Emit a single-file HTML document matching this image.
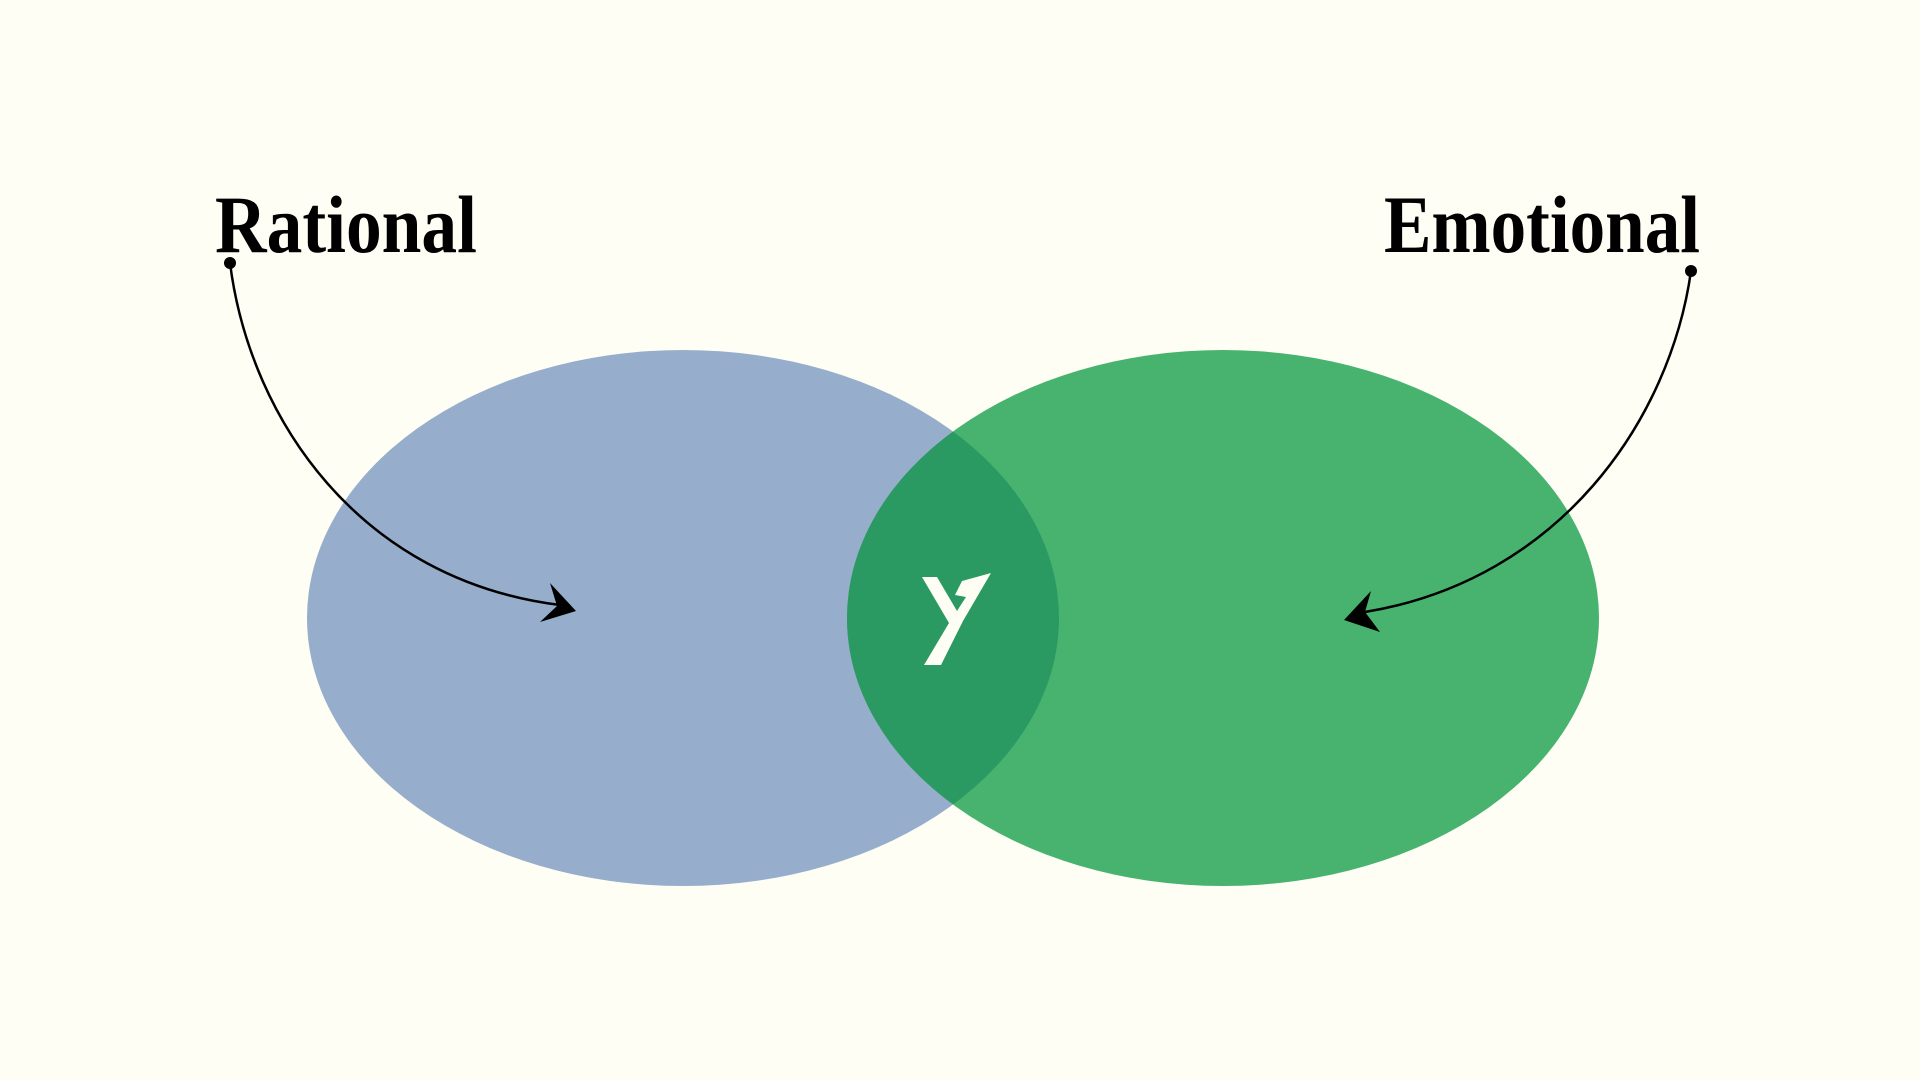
<!DOCTYPE html>
<html><head><meta charset="utf-8"><style>
html,body{margin:0;padding:0;background:#fefef5;}
svg{display:block}
</style></head><body>
<svg width="1920" height="1080" viewBox="0 0 1920 1080" xmlns="http://www.w3.org/2000/svg">
<rect width="1920" height="1080" fill="#fefef5"/>
<defs><clipPath id="cl"><ellipse cx="683" cy="618" rx="376" ry="268"/></clipPath></defs>
<ellipse cx="683" cy="618" rx="376" ry="268" fill="#96adcb"/>
<ellipse cx="1223" cy="618" rx="376" ry="268" fill="#47b36f"/>
<ellipse cx="1223" cy="618" rx="376" ry="268" fill="#2a9a62" clip-path="url(#cl)"/>
<polygon points="922,577 937,577 957,611 966,597 955,595 962,581 991,573 963,621 941,665 924,665 949,623" fill="#fefef5"/>
<text x="215" y="252" font-family="Liberation Serif, serif" font-weight="bold" font-size="82" fill="#000" textLength="262" lengthAdjust="spacingAndGlyphs">Rational</text>
<text x="1384" y="252" font-family="Liberation Serif, serif" font-weight="bold" font-size="82" fill="#000" textLength="316" lengthAdjust="spacingAndGlyphs">Emotional</text>
<circle cx="230" cy="263" r="6" fill="#000"/>
<path d="M230,263 C250,420 360,580 560,605" fill="none" stroke="#000" stroke-width="2.5"/>
<polygon points="550,583 576,611 540,622 557,606" fill="#000"/>
<circle cx="1691" cy="271" r="6" fill="#000"/>
<path d="M1691,271 C1670,420 1560,580 1365,612" fill="none" stroke="#000" stroke-width="2.5"/>
<polygon points="1371,591 1344,620 1380,632 1365,612" fill="#000"/>
</svg>
</body></html>
